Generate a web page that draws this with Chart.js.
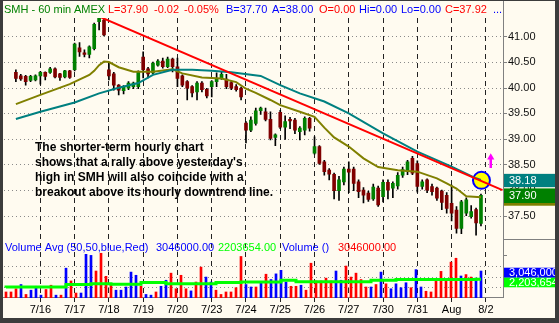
<!DOCTYPE html>
<html><head><meta charset="utf-8">
<script src="https://cdn.jsdelivr.net/npm/chart.js@4/dist/chart.umd.min.js"></script>
<style>html,body{margin:0;padding:0;background:#fffbf0;}#wrap{position:relative;width:559px;height:323px;}#wrap canvas{position:absolute;left:0;top:0;display:block;}</style>
</head><body>
<div id="wrap">
<canvas id="c" width="559" height="323"></canvas>
<canvas id="v" width="559" height="323"></canvas>
</div>
<script>
// ---- data ----
const dayLabels = ["7/16","7/17","7/18","7/19","7/20","7/23","7/24","7/25","7/26","7/27","7/30","7/31","Aug","8/2"];
const dayStartBars = [6,13,20,27,34,41,48,55,62,69,76,83,90,97];

const opens = [40.30,40.23,40.22,40.14,40.15,40.23,40.30,40.30,40.37,40.27,
40.21,40.33,40.35,40.78,40.68,40.65,40.76,41.29,41.32,40.35,
40.27,40.05,39.94,39.99,40.02,40.02,40.60,40.37,40.29,40.44,
40.52,40.41,40.56,40.41,40.23,40.12,40.02,39.92,40.09,39.97,
40.02,40.12,40.18,40.17,40.10,40.02,39.99,39.31,39.17,39.30,
39.55,39.53,39.38,39.03,39.52,39.23,39.38,39.37,39.14,39.17,
39.40,38.72,38.85,38.55,38.39,38.31,37.99,38.16,38.41,38.41,
38.16,38.00,37.94,37.83,38.04,37.87,38.15,38.04,38.08,38.29,
38.36,38.62,38.52,38.07,38.20,38.07,38.04,37.98,37.90,37.74,
37.61,37.25,37.55,37.48,37.62,37.35];
const highs = [40.35,40.26,40.24,40.24,40.25,40.32,40.31,40.40,40.39,40.28,
40.34,40.34,40.87,40.88,40.74,40.82,41.26,41.39,41.36,40.48,
40.30,40.06,40.04,40.12,40.11,40.33,40.70,40.40,40.50,40.55,
40.58,40.60,40.58,40.58,40.25,40.14,40.04,40.12,40.12,39.99,
40.14,40.29,40.30,40.26,40.13,40.06,40.01,39.34,39.43,39.60,
39.62,39.60,39.53,39.10,39.56,39.45,39.42,39.40,39.24,39.43,
39.42,39.04,38.87,38.58,38.42,38.33,38.27,38.45,38.55,38.45,
38.20,38.05,37.98,38.12,38.08,38.20,38.20,38.16,38.34,38.45,
38.58,38.66,38.57,38.20,38.22,38.12,38.06,38.00,37.95,38.10,
37.68,37.80,37.85,37.70,37.65,37.92];
const lows = [40.12,40.14,40.05,40.12,40.13,40.07,40.15,40.28,40.19,40.14,
40.19,40.18,40.33,40.61,40.60,40.58,40.74,41.13,41.01,40.15,
39.95,39.86,39.88,39.96,39.98,39.98,40.19,40.19,40.27,40.42,
40.38,40.39,40.31,40.02,40.02,39.76,39.82,39.76,39.92,39.80,
39.82,40.02,40.16,39.98,39.96,39.93,39.76,38.92,39.14,39.27,
39.48,39.35,38.98,38.87,39.20,38.99,39.20,39.10,38.98,39.08,
39.15,38.70,38.50,38.29,38.20,37.83,37.80,38.10,37.95,37.99,
37.85,37.75,37.78,37.80,37.68,37.77,37.83,37.85,38.02,38.25,
38.30,38.30,37.96,38.02,37.95,37.90,37.80,37.62,37.55,37.40,
37.16,37.15,37.50,37.45,37.12,37.30];
const closes = [40.18,40.17,40.12,40.22,40.23,40.30,40.22,40.37,40.21,40.20,
40.33,40.20,40.85,40.70,40.65,40.80,41.24,41.36,41.03,40.23,
40.05,39.95,40.02,40.09,40.09,40.31,40.35,40.27,40.48,40.52,
40.41,40.56,40.41,40.18,40.05,39.99,39.90,40.09,39.96,39.84,
40.12,40.18,40.26,40.02,39.99,39.96,39.82,39.17,39.37,39.55,
39.60,39.38,39.01,39.08,39.23,39.34,39.35,39.17,39.21,39.40,
39.21,38.85,38.52,38.36,38.31,37.99,38.20,38.41,38.35,38.13,
37.97,37.90,37.82,38.06,37.71,38.15,38.00,38.13,38.29,38.40,
38.55,38.33,38.07,38.16,38.00,37.97,37.84,37.76,37.64,37.55,
37.25,37.77,37.81,37.58,37.36,37.90];
const volumes = [850000,850000,1300000,1900000,500000,1100000,1650000,400000,1200000,1800000,
400000,400000,4200000,2400000,700000,700000,6150000,6000000,3800000,6300000,
3050000,1900000,1100000,1100000,1550000,3650000,3200000,1650000,500000,400000,
850000,1650000,2500000,3500000,1300000,3200000,1300000,1000000,2250000,4350000,
2950000,2250000,1100000,500000,850000,850000,1450000,5850000,1900000,1550000,
1550000,2150000,3350000,2600000,3400000,3900000,2250000,1650000,1650000,1800000,
1100000,4900000,2400000,2400000,2800000,2400000,3800000,2500000,4500000,2950000,
3500000,2600000,1550000,1550000,1900000,3650000,2000000,1300000,2000000,1450000,
2150000,1450000,4000000,1550000,950000,850000,2500000,3750000,2500000,5050000,
5600000,3100000,3300000,2950000,2800000,3800000];
const volumeUp = [0,0,0,1,0,1,1,1,0,0, 1,0,1,0,0,1,1,1,0,0, 0,0,1,1,1,1,1,0,1,1,
0,1,1,0,0,0,0,1,0,0, 1,1,0,0,0,0,0,0,1,1, 0,1,0,1,1,1,1,0,0,1,
0,0,0,0,0,0,1,1,0,0, 0,0,0,1,0,1,0,1,1,1, 1,0,1,1,0,0,0,0,0,0, 0,1,0,0,1,1];
const shortAvg = [[1,39.68],[6,39.86],[12,40.07],[16,40.25],[17,40.33],[18,40.44],[19,40.51],[20,40.50],[22,40.40],[25,40.31],[29,40.31],[33,40.36],[35,40.28],[39,40.20],[43,40.18],[46,40.11],[48,39.98],[50,39.90],[53,39.76],[55,39.66],[59,39.53],[62,39.43],[64,39.22],[66,39.03],[69,38.85],[72,38.62],[75,38.45],[79,38.39],[83,38.36],[87,38.23],[89,38.13],[91,38.03],[93,37.88],[96,37.86]];
const longAvg = [[1,39.39],[6,39.53],[13,39.71],[18,39.89],[22,40.00],[26,40.09],[29,40.25],[33,40.35],[37,40.35],[41,40.33],[45,40.30],[51,40.23],[55,40.05],[59,39.89],[64,39.73],[69,39.50],[76,39.11],[83,38.75],[90,38.46],[95,38.23],[96,38.20]];
const volumeAvg = [[1,1460000],[13,1550000],[18,1900000],[22,2000000],[28,1930000],[33,2170000],[43,2000000],[48,2170000],[56,2250000],[59,2490000],[74,2300000],[79,2490000],[95,2600000],[96,2650000]];
const trendLine = [[18,41.39],[100.4,38.00]];
const highlight = [[96.1,38.19]];
const arrowPts = [[98,38.43],[98,38.64]];
const priceTicks = [37.5,38,38.5,39,39.5,40,40.5,41];
const volumeGrid = [1500000,3000000,4500000];

const header = [
  ["SMH - 60 min",4,"#008000"],["AMEX",74,"#008000"],["L=37.90",108,"#ff0000"],["-0.02",154,"#ff0000"],
  ["-0.05%",184,"#ff0000"],["B=37.70",226,"#0000ff"],["A=38.00",272,"#0000ff"],["O=0.00",319,"#ff0000"],
  ["Hi=0.00",359,"#0000ff"],["Lo=0.00",401,"#0000ff"],["C=37.92",445,"#ff0000"],["...",493,"#0000ff"]];
const volLegend = [["Volume Avg (50,50,blue,Red)",5,"#0000ff"],["3046000.00",156,"#0000ff"],["2203654.00",218,"#00ff00"],["Volume ()",282,"#0000ff"],["3046000.00",338,"#ff0000"]];
const note = ["The shorter-term hourly chart","shows that a rally above yesterday's","high in SMH will also coincide with a","breakout above its hourly downtrend line."];

const F = "'Liberation Sans', Arial, sans-serif";
const idx = opens.map((_, i) => i + 1);
const PAD = { left: 0, top: 18, right: 56, bottom: 25 };

const decor = {
  id: 'decor',
  beforeDraw(chart) {
    const c = chart.ctx;
    c.save(); c.fillStyle = '#fffbf0'; c.fillRect(0, 0, chart.width, chart.height); c.restore();
  },
  beforeDatasetsDraw(chart) {
    const c = chart.ctx, a = chart.chartArea, x = chart.scales.x, y = chart.scales.y;
    c.save();
    c.lineWidth = 1; c.strokeStyle = '#8a8a8a'; c.setLineDash([1, 3]);
    priceTicks.forEach(p => { const py = Math.round(y.getPixelForValue(p)) + 0.5; c.beginPath(); c.moveTo(4, py); c.lineTo(a.right, py); c.stroke(); });
    c.strokeStyle = '#222'; c.setLineDash([5, 4]);
    dayStartBars.forEach(b => { const px = Math.floor(x.getPixelForValue(b)) + 0.5; c.beginPath(); c.moveTo(px, a.top); c.lineTo(px, a.bottom); c.stroke(); });
    c.setLineDash([]);
    dayStartBars.forEach(b => { const px = Math.floor(x.getPixelForValue(b)) + 0.5; c.beginPath(); c.moveTo(px, a.bottom); c.lineTo(px, a.bottom + 4); c.stroke(); });
    c.restore();
  },
  afterDraw(chart) {
    const c = chart.ctx, a = chart.chartArea, x = chart.scales.x, y = chart.scales.y;
    c.save();
    const line = (x1, y1, x2, y2) => { c.beginPath(); c.moveTo(x1, y1); c.lineTo(x2, y2); c.stroke(); };
    c.strokeStyle = '#808080'; c.lineWidth = 1;
    line(a.right + 0.5, 0, a.right + 0.5, a.bottom);
    line(0, a.bottom - 0.5, a.right, a.bottom - 0.5);
    line(a.right, 239.5, 555, 239.5);
    priceTicks.forEach(p => { const py = Math.round(y.getPixelForValue(p)) + 0.5; line(a.right, py, a.right + 4, py); });
    line(a.right, 255.5, a.right + 4, 255.5);
    c.font = '11px ' + F; c.fillStyle = '#111'; c.textAlign = 'left'; c.textBaseline = 'middle';
    priceTicks.forEach(p => c.fillText(p.toFixed(2), a.right + 5, y.getPixelForValue(p)));
    c.textAlign = 'center'; c.fillStyle = '#000';
    dayStartBars.forEach((b, i) => c.fillText(dayLabels[i], x.getPixelForValue(b), 310));
    const box = (col, top, h, txt) => {
      c.fillStyle = col; c.fillRect(a.right + 1, top, 555 - a.right - 1, h);
      if (txt) { c.fillStyle = '#fff'; c.font = '11px ' + F; c.textBaseline = 'middle'; c.textAlign = 'left'; c.fillText(txt, a.right + 6, top + h / 2 + 0.5); }
    };
    const tY = y.getPixelForValue(longAvg[longAvg.length - 1][1]);
    const cY = y.getPixelForValue(closes[closes.length - 1]);
    box('#808000', cY - 4, 14.5);
    box('#008080', tY - 6, 13.3, '38.18');
    box('#008000', cY - 6.8, 14.6, '37.90');
    box('#00ff00', 277.3, 10, '2,203,654');
    box('#0000ff', 267.7, 9.8, '3,046,000');
    c.textBaseline = 'alphabetic'; c.textAlign = 'left'; c.font = '11px ' + F;
    header.forEach(([t, px, col]) => { c.fillStyle = col; c.fillText(t, px, 13); });
    volLegend.forEach(([t, px, col]) => { c.fillStyle = col; c.fillText(t, px, 250.5); });
    c.font = 'bold 12px ' + F; c.fillStyle = '#000'; c.textBaseline = 'middle';
    note.forEach((t, i) => c.fillText(t, 35, 147.5 + i * 15));
    c.fillStyle = '#3c3c3c';
    c.fillRect(0, 0, 3, 323); c.fillRect(555, 0, 4, 323); c.fillRect(0, 318, 559, 5); c.fillRect(0, 0, 559, 1);
    c.restore();
  }
};

const volDecor = {
  id: 'volDecor',
  beforeDatasetsDraw(chart) {
    const c = chart.ctx, a = chart.chartArea, y = chart.scales.y;
    c.save();
    c.lineWidth = 1; c.strokeStyle = '#8a8a8a'; c.setLineDash([1, 3]);
    volumeGrid.forEach(v => { const py = Math.round(y.getPixelForValue(v)) + 0.5; c.beginPath(); c.moveTo(4, py); c.lineTo(a.right, py); c.stroke(); });
    c.restore();
  }
};

new Chart(document.getElementById('c'), {
  data: {
    datasets: [
      { type: 'scatter', data: highlight.map(([b, p]) => ({x: b, y: p})), pointRadius: 8.5, pointBackgroundColor: '#ffff00', pointBorderColor: '#0000ff', pointBorderWidth: 2, order: 10 },
      { type: 'bar', data: idx.map((b, i) => ({x: b, y: [lows[i], highs[i]]})), backgroundColor: '#000', barThickness: 1, grouped: false, order: 7 },
      { type: 'bar', data: idx.map((b, i) => ({x: b, y: [opens[i], closes[i]]})), backgroundColor: idx.map((b, i) => closes[i] >= opens[i] ? '#008000' : '#800000'), barThickness: 3, minBarLength: 1, grouped: false, order: 6 },
      { type: 'line', data: shortAvg.map(([b, p]) => ({x: b, y: p})), borderColor: '#808000', borderWidth: 2, pointRadius: 0, order: 5 },
      { type: 'line', data: longAvg.map(([b, p]) => ({x: b, y: p})), borderColor: '#008080', borderWidth: 2, pointRadius: 0, order: 4 },
      { type: 'line', data: trendLine.map(([b, p]) => ({x: b, y: p})), borderColor: '#ff0000', borderWidth: 2, pointRadius: 0, order: 3 },
      { type: 'line', data: arrowPts.map(([b, p]) => ({x: b, y: p})), borderColor: '#ff00ff', borderWidth: 2.5, pointRadius: [0, 4.2], pointStyle: 'triangle', pointBackgroundColor: '#ff00ff', pointBorderWidth: 0, order: 2 }
    ]
  },
  options: {
    responsive: false, animation: false, devicePixelRatio: 1,
    layout: { padding: PAD },
    plugins: { legend: { display: false }, tooltip: { enabled: false } },
    scales: {
      x: { type: 'linear', display: false, min: -0.1, max: 100.5, offset: false, grid: { offset: false } },
      y: { type: 'linear', display: false, min: 35.8926, max: 41.3613, beginAtZero: false }
    }
  },
  plugins: [decor]
});

new Chart(document.getElementById('v'), {
  data: {
    datasets: [
      { type: 'bar', data: idx.map((b, i) => ({x: b, y: volumes[i]})), backgroundColor: volumeUp.map(u => u ? '#0000ff' : '#ff0000'), barThickness: 2, order: 2 },
      { type: 'line', data: volumeAvg.map(([b, v]) => ({x: b, y: v})), borderColor: '#00ff00', borderWidth: 3, pointRadius: 0, stepped: 'after', order: 1 }
    ]
  },
  options: {
    responsive: false, animation: false, devicePixelRatio: 1,
    layout: { padding: PAD },
    plugins: { legend: { display: false }, tooltip: { enabled: false } },
    scales: {
      x: { type: 'linear', display: false, min: -0.2, max: 100.4, offset: false, grid: { offset: false } },
      y: { type: 'linear', display: false, min: 0, max: 39440000 }
    }
  },
  plugins: [volDecor]
});
</script>
</body></html>
